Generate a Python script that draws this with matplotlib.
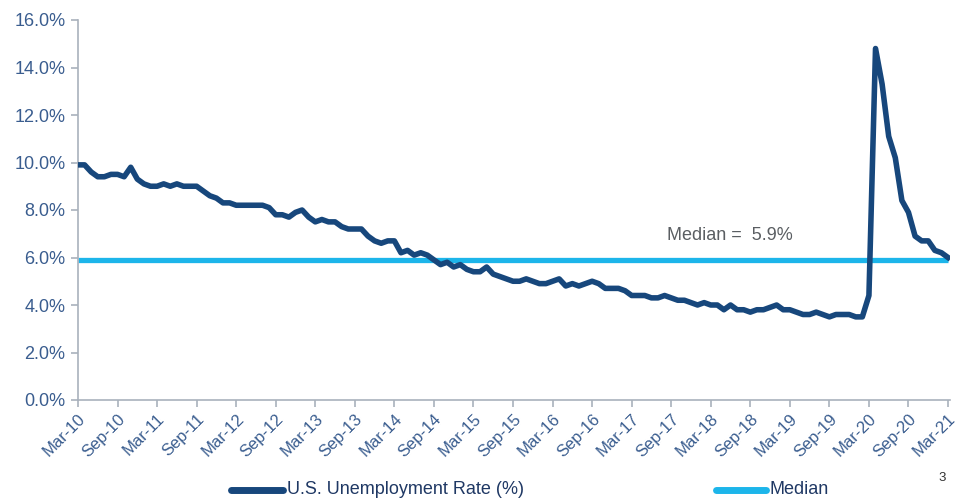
import matplotlib
matplotlib.use("Agg")
import matplotlib.pyplot as plt
from matplotlib.lines import Line2D

plt.rcParams['font.family'] = ['Liberation Sans', 'DejaVu Sans']

# Monthly U.S. unemployment rate (%), Mar-2010 .. Mar-2021
rate = [
    9.9, 9.9, 9.6, 9.4, 9.4, 9.5, 9.5, 9.4, 9.8, 9.3,            # Mar-10 .. Dec-10
    9.1, 9.0, 9.0, 9.1, 9.0, 9.1, 9.0, 9.0, 9.0, 8.8, 8.6, 8.5,  # 2011
    8.3, 8.3, 8.2, 8.2, 8.2, 8.2, 8.2, 8.1, 7.8, 7.8, 7.7, 7.9,  # 2012
    8.0, 7.7, 7.5, 7.6, 7.5, 7.5, 7.3, 7.2, 7.2, 7.2, 6.9, 6.7,  # 2013
    6.6, 6.7, 6.7, 6.2, 6.3, 6.1, 6.2, 6.1, 5.9, 5.7, 5.8, 5.6,  # 2014
    5.7, 5.5, 5.4, 5.4, 5.6, 5.3, 5.2, 5.1, 5.0, 5.0, 5.1, 5.0,  # 2015
    4.9, 4.9, 5.0, 5.1, 4.8, 4.9, 4.8, 4.9, 5.0, 4.9, 4.7, 4.7,  # 2016
    4.7, 4.6, 4.4, 4.4, 4.4, 4.3, 4.3, 4.4, 4.3, 4.2, 4.2, 4.1,  # 2017
    4.0, 4.1, 4.0, 4.0, 3.8, 4.0, 3.8, 3.8, 3.7, 3.8, 3.8, 3.9,  # 2018
    4.0, 3.8, 3.8, 3.7, 3.6, 3.6, 3.7, 3.6, 3.5, 3.6, 3.6, 3.6,  # 2019
    3.5, 3.5, 4.4, 14.8, 13.3, 11.1, 10.2, 8.4, 7.9, 6.9, 6.7, 6.7,  # 2020
    6.3, 6.2, 6.0,                                               # 2021
]
median_value = 5.9
tick_labels = ["Mar-10", "Sep-10", "Mar-11", "Sep-11", "Mar-12", "Sep-12",
               "Mar-13", "Sep-13", "Mar-14", "Sep-14", "Mar-15", "Sep-15",
               "Mar-16", "Sep-16", "Mar-17", "Sep-17", "Mar-18", "Sep-18",
               "Mar-19", "Sep-19", "Mar-20", "Sep-20", "Mar-21"]
y_ticks = [0, 2, 4, 6, 8, 10, 12, 14, 16]
legend_labels = ["U.S. Unemployment Rate (%)", "Median"]

navy = "#17477C"
cyan = "#1CB5EA"
tick_col = "#3A5D8F"
spine_col = "#A9B1BC"

fig = plt.figure(figsize=(9.62, 5.0), dpi=100)
ax = fig.add_axes([78/962, 1-400/500, (950-78)/962, 380/500])

x = list(range(len(rate)))
ax.plot(x, [median_value]*len(rate), color=cyan, lw=3.8, solid_capstyle='butt', zorder=2)
ax.plot(x, rate, color=navy, lw=4.0, solid_joinstyle='round', zorder=3)

ax.set_xlim(0, 132.3)
ax.set_ylim(0, 16)
ax.set_yticks(y_ticks)
ax.set_yticklabels([f"{v:.1f}%" for v in y_ticks], color=tick_col, fontsize=13)
ax.set_xticks(range(0, 133, 6))
ax.set_xticklabels(tick_labels, rotation=45, ha='right', rotation_mode='anchor',
                   color=tick_col, fontsize=12)

for s in ['top', 'right']:
    ax.spines[s].set_visible(False)
for s in ['left', 'bottom']:
    ax.spines[s].set_color(spine_col)
    ax.spines[s].set_linewidth(1.2)
ax.tick_params(axis='both', color=spine_col, length=5, width=1.2)
ax.tick_params(axis='x', pad=3)
ax.tick_params(axis='y', pad=4)

ax.text(667/962, 1-235/500, "Median =  5.9%", transform=fig.transFigure,
        fontsize=13, color="#5A5E62", ha='left', va='center')

fig.text(0.979, 0.044, "3", fontsize=9.5, color="#333333", ha='center', va='center')

# Legend (manually placed entries)
leg_y = 1 - 490/500
for (x0, x1, tx), col, lab in zip([(231, 283, 287), (716, 766, 770)],
                                  [navy, cyan], legend_labels):
    fig.add_artist(Line2D([x0/962, x1/962], [leg_y, leg_y], transform=fig.transFigure,
                          color=col, lw=5, solid_capstyle='round'))
    fig.text(tx/962, leg_y, lab, fontsize=13, color="#1F3864",
             ha='left', va='center')

fig.savefig("out.png", dpi=100)
